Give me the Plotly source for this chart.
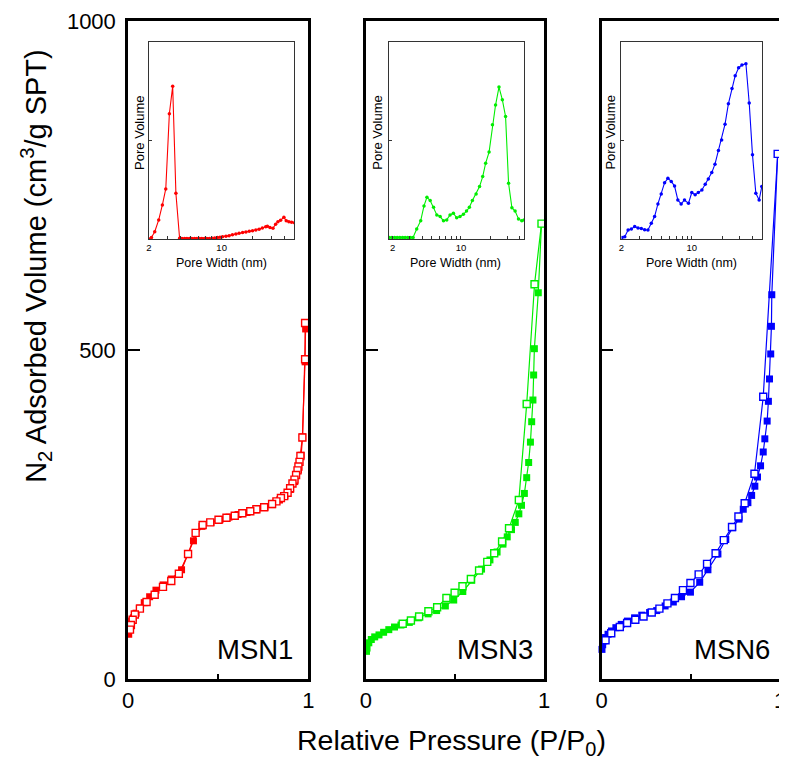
import plotly.graph_objects as go

# ---------------- main isotherm data (P/P0, cm3/g) ----------------
msn1_ads_p = [0.004, 0.008, 0.013, 0.02, 0.03, 0.045, 0.065, 0.09, 0.12, 0.155, 0.195, 0.24, 0.297, 0.363,
              0.41, 0.46, 0.51, 0.56, 0.61, 0.66, 0.71, 0.76, 0.80, 0.84, 0.87, 0.90, 0.925, 0.945, 0.96,
              0.968, 0.982, 0.985]
msn1_ads_v = [68, 75, 82, 88, 93, 100, 108, 116, 125, 135, 143, 152, 166, 210,
              232, 238, 242, 246, 250, 253, 257, 261, 265, 272, 279, 288, 300, 318, 340,
              368, 482, 532]
msn1_des_p = [0.982, 0.982, 0.967, 0.956, 0.951, 0.945, 0.940, 0.932, 0.923, 0.912, 0.899, 0.885, 0.866,
              0.848, 0.823, 0.799, 0.755, 0.712, 0.678, 0.634, 0.592, 0.546, 0.502, 0.456, 0.414, 0.375,
              0.333, 0.282, 0.240, 0.194, 0.148, 0.103, 0.066, 0.038, 0.026, 0.016, 0.011]
msn1_des_v = [541, 486, 367, 339, 330, 323, 317, 310, 303, 297, 290, 283, 278,
              275, 270, 266, 261, 258, 255, 252, 248, 245, 242, 238, 234, 222,
              190, 160, 149, 140, 128, 117, 107, 98, 90, 82, 75]

msn3_ads_p = [0.004, 0.007, 0.017, 0.031, 0.05, 0.074, 0.10, 0.129, 0.161, 0.197, 0.244, 0.295, 0.349,
              0.397, 0.446, 0.493, 0.544, 0.594, 0.649, 0.696, 0.736, 0.769, 0.793, 0.817, 0.838, 0.858,
              0.873, 0.889, 0.902, 0.913, 0.923, 0.930, 0.937, 0.941, 0.945, 0.967, 0.985]
msn3_ads_v = [42, 47, 55, 60, 64, 67, 71, 75, 79, 82, 86, 93, 99,
              104, 111, 120, 133, 150, 167, 181, 193, 205, 216, 227, 238, 251,
              264, 282, 306, 329, 360, 391, 424, 462, 502, 587, 692]
msn3_des_p = [0.985, 0.946, 0.902, 0.858, 0.803, 0.764, 0.720, 0.681, 0.635, 0.589, 0.542, 0.498,
              0.452, 0.400, 0.351, 0.299, 0.253, 0.207]
msn3_des_v = [692, 600, 418, 272, 229, 209, 191, 178, 165, 152, 141, 131,
              123, 109, 103, 95, 89, 84]

msn6_ads_p = [0.002, 0.006, 0.012, 0.022, 0.036, 0.055, 0.08, 0.11, 0.145, 0.185, 0.225, 0.269, 0.309,
              0.356, 0.402, 0.448, 0.498, 0.550, 0.596, 0.652, 0.696, 0.735, 0.770, 0.794, 0.820, 0.841,
              0.859, 0.874, 0.891, 0.906, 0.915, 0.928, 0.935, 0.941, 0.948, 0.952, 0.954, 0.987]
msn6_ads_v = [45, 52, 58, 63, 68, 73, 78, 83, 88, 93, 97, 101, 104,
              111, 117, 125, 132, 147, 166, 190, 212, 230, 243, 258, 268, 279,
              293, 307, 324, 345, 365, 392, 422, 456, 494, 536, 584, 798]
msn6_des_p = [0.987, 0.906, 0.857, 0.802, 0.767, 0.731, 0.685, 0.639, 0.591, 0.544, 0.498, 0.456,
              0.411, 0.369, 0.324, 0.281, 0.235, 0.189, 0.143, 0.102, 0.054, 0.022]
msn6_des_v = [798, 429, 312, 267, 247, 231, 211, 191, 175, 159, 146, 135,
              123, 115, 107, 101, 95, 90, 85, 79, 69.5, 59]

# ---------------- pore size distributions (nm, normalised volume) ----------------
psd1_w = [2.0, 2.12, 2.28, 2.49, 2.70, 2.91, 3.15, 3.39, 3.64, 3.95, 4.16, 4.41, 4.64, 4.92, 5.18, 5.49,
          5.78, 6.13, 6.45, 6.84, 7.20, 7.63, 8.09, 8.58, 9.10, 9.65, 10.2, 11.0, 11.8, 12.7, 13.7, 14.7,
          15.9, 17.1, 18.4, 19.8, 21.3, 22.9, 24.6, 26.5, 27.5, 29.1, 31.1, 33.0, 34.7, 36.8, 39.6,
          41.7, 44.2, 46.9, 50.0]
psd1_v = [0.0, 0.008, 0.037, 0.097, 0.173, 0.254, 0.636, 0.775, 0.232, 0.004, 0.003, 0.003, 0.003, 0.003,
          0.003, 0.003, 0.003, 0.003, 0.003, 0.003, 0.003, 0.003, 0.004, 0.005, 0.007, 0.009, 0.011, 0.014,
          0.017, 0.021, 0.025, 0.029, 0.033, 0.036, 0.039, 0.042, 0.046, 0.050, 0.056, 0.062, 0.065, 0.058,
          0.055, 0.075, 0.088, 0.095, 0.110, 0.093, 0.087, 0.085, 0.083]

psd3_w = [1.85, 1.97, 2.10, 2.23, 2.37, 2.53, 2.69, 2.86, 3.04, 3.24, 3.53, 3.88, 4.19, 4.49, 4.85, 5.25,
          5.67, 6.13, 6.63, 7.16, 7.74, 8.37, 9.05, 9.78, 10.6, 11.4, 12.2, 13.1, 14.3, 15.5, 16.7, 17.9,
          19.4, 21.0, 22.6, 24.5, 26.5, 28.6, 30.7, 33.2, 35.8, 38.8, 41.9, 44.2]
psd3_v = [0.008, 0.008, 0.008, 0.008, 0.008, 0.008, 0.008, 0.008, 0.008, 0.008, 0.051, 0.093, 0.168, 0.212,
          0.195, 0.161, 0.122, 0.114, 0.092, 0.097, 0.122, 0.131, 0.108, 0.114, 0.125, 0.142, 0.161, 0.195,
          0.229, 0.266, 0.317, 0.385, 0.441, 0.580, 0.680, 0.771, 0.707, 0.622, 0.283, 0.159, 0.142, 0.102,
          0.092, 0.097]

psd6_w = [2.03, 2.16, 2.33, 2.51, 2.71, 2.92, 3.15, 3.40, 3.67, 3.96, 4.27, 4.61, 4.97, 5.37, 5.79, 6.25,
          6.74, 7.27, 7.84, 8.46, 9.27, 10.0, 10.8, 11.6, 12.6, 13.6, 14.6, 15.8, 17.0, 18.4, 19.8, 21.4,
          23.1, 25.1, 27.0, 29.2, 31.5, 34.5, 37.2, 40.1, 43.3, 46.7, 49.6]
psd6_v = [0.008, 0.012, 0.046, 0.051, 0.063, 0.056, 0.053, 0.047, 0.046, 0.080, 0.114, 0.178, 0.229, 0.286,
          0.308, 0.292, 0.269, 0.198, 0.178, 0.198, 0.181, 0.236, 0.224, 0.236, 0.249, 0.278, 0.305, 0.337,
          0.380, 0.449, 0.503, 0.583, 0.686, 0.764, 0.829, 0.869, 0.883, 0.890, 0.690, 0.427, 0.232, 0.198,
          0.266]

y_ticks = [0, 500, 1000]
x_ticks = [0, 0.5, 1]
x_ticktext = ["0", "", "1"]
psd_ticks = [2, 3, 4, 5, 6, 7, 8, 9, 10, 20, 30, 40, 50]
psd_ticktext = ["2", "", "", "", "", "", "", "", "10", "", "", "", ""]
sample_names = ["MSN1", "MSN3", "MSN6"]

RED, GREEN, BLUE = "#FF0000", "#00EE00", "#0000FF"
FONT = "Liberation Sans, Arial, sans-serif"

fig = go.Figure()

panels = [
    (msn1_ads_p, msn1_ads_v, msn1_des_p, msn1_des_v, RED),
    (msn3_ads_p, msn3_ads_v, msn3_des_p, msn3_des_v, GREEN),
    (msn6_ads_p, msn6_ads_v, msn6_des_p, msn6_des_v, BLUE),
]
for i, (ap, av, dp, dv, col) in enumerate(panels):
    xa = "x" if i == 0 else f"x{i+1}"
    ya = "y" if i == 0 else f"y{i+1}"
    fig.add_trace(go.Scatter(x=ap, y=av, xaxis=xa, yaxis=ya, mode="lines+markers",
                             line=dict(color=col, width=1.2),
                             marker=dict(symbol="square", size=7, color=col, line=dict(width=0)),
                             showlegend=False, cliponaxis=False))
    fig.add_trace(go.Scatter(x=dp, y=dv, xaxis=xa, yaxis=ya, mode="lines+markers",
                             line=dict(color=col, width=1.2),
                             marker=dict(symbol="square", size=7, color="white", line=dict(color=col, width=1.4)),
                             showlegend=False, cliponaxis=False))

psds = [(psd1_w, psd1_v, RED), (psd3_w, psd3_v, GREEN), (psd6_w, psd6_v, BLUE)]
for i, (w, v, col) in enumerate(psds):
    fig.add_trace(go.Scatter(x=w, y=v, xaxis=f"x{i+4}", yaxis=f"y{i+4}", mode="lines+markers",
                             line=dict(color=col, width=1.1),
                             marker=dict(symbol="circle", size=3.5, color=col),
                             showlegend=False, cliponaxis=True))

main_x_domains = [[0.0, 0.2766], [0.3647, 0.6383], [0.7264, 1.0]]
inset_x_domains = [[0.0319, 0.2553], [0.3997, 0.6079], [0.7568, 0.9726]]
inset_ranges = [[0.30103, 1.69897], [0.2605, 1.6485], [0.30103, 1.69897]]
inset_y_domain = [0.6687, 0.9681]

# the page body adds an 8px offset; the figure is sized so the whole page fits the window exactly
layout = dict(
    width=779, height=751,
    margin=dict(l=120, r=1, t=13, b=80),
    paper_bgcolor="white", plot_bgcolor="white",
    font=dict(family=FONT, color="black"),
)
for i in range(3):
    sx = "" if i == 0 else str(i + 1)
    layout[f"xaxis{sx}"] = dict(
        domain=main_x_domains[i], range=[0, 1], anchor=f"y{sx}",
        showline=True, mirror=True, linecolor="black", linewidth=2.5,
        ticks="inside", ticklen=5, tickwidth=2, tickcolor="black",
        tickvals=x_ticks, ticktext=x_ticktext, tickfont=dict(size=22),
        showgrid=False, zeroline=False, ticklabelstandoff=0,
    )
    layout[f"yaxis{sx}"] = dict(
        domain=[0, 1], range=[0, 1000], anchor=f"x{sx}",
        showline=True, mirror=True, linecolor="black", linewidth=2.5,
        ticks="inside", ticklen=12, tickwidth=2, tickcolor="black",
        tickvals=y_ticks, ticktext=[str(t) for t in y_ticks], tickfont=dict(size=22),
        showticklabels=(i == 0), showgrid=False, zeroline=False, ticklabelstandoff=5,
    )
for i in range(3):
    n = i + 4
    layout[f"xaxis{n}"] = dict(
        domain=inset_x_domains[i], type="log", range=inset_ranges[i], anchor=f"y{n}",
        showline=True, mirror=True, linecolor="#333333", linewidth=1,
        ticks="inside", ticklen=3, tickwidth=1, tickcolor="#333333",
        tickvals=psd_ticks, ticktext=psd_ticktext, tickfont=dict(size=9.5),
        showgrid=False, zeroline=False, ticklabelstandoff=0,
    )
    layout[f"yaxis{n}"] = dict(
        domain=inset_y_domain, range=[0, 1], anchor=f"x{n}",
        showline=True, mirror=True, linecolor="#333333", linewidth=1,
        ticks="inside", ticklen=3, tickwidth=1, tickcolor="#333333",
        tickvals=[0.5], showticklabels=False,
        showgrid=False, zeroline=False,
    )
fig.update_layout(**layout)

ann = []
ann.append(dict(text="N<sub>2</sub> Adsorbed Volume (cm<sup>3</sup>/g SPT)", xref="paper", yref="paper",
                x=-0.1413, y=0.6277, textangle=-90, showarrow=False, xanchor="center", yanchor="middle",
                font=dict(size=29)))
ann.append(dict(text="Relative Pressure (P/P<sub>0</sub>)", xref="paper", yref="paper",
                x=0.4954, y=-0.0957, showarrow=False, xanchor="center", yanchor="middle",
                font=dict(size=28.5)))
label_x = [0.2568, 0.6246, 0.9878]
for name, lx in zip(sample_names, label_x):
    ann.append(dict(text=name, xref="paper", yref="paper", x=lx, y=0.0441, showarrow=False,
                    xanchor="right", yanchor="middle", font=dict(size=27.5)))
pw_x = [0.1429, 0.5030, 0.8647]
pv_x = [(139 - 128) / 658, (379 - 128) / 658, (614 - 128) / 658]
for px, vx in zip(pw_x, pv_x):
    ann.append(dict(text="Pore Width (nm)", xref="paper", yref="paper", x=px, y=(679 - 263) / 658,
                    showarrow=False, xanchor="center", yanchor="middle", font=dict(size=12.5)))
    ann.append(dict(text="Pore Volume", xref="paper", yref="paper", x=vx, y=(679 - 133) / 658,
                    textangle=-90, showarrow=False, xanchor="center", yanchor="middle", font=dict(size=13)))
fig.update_layout(annotations=ann)

fig.write_html("out.html")
